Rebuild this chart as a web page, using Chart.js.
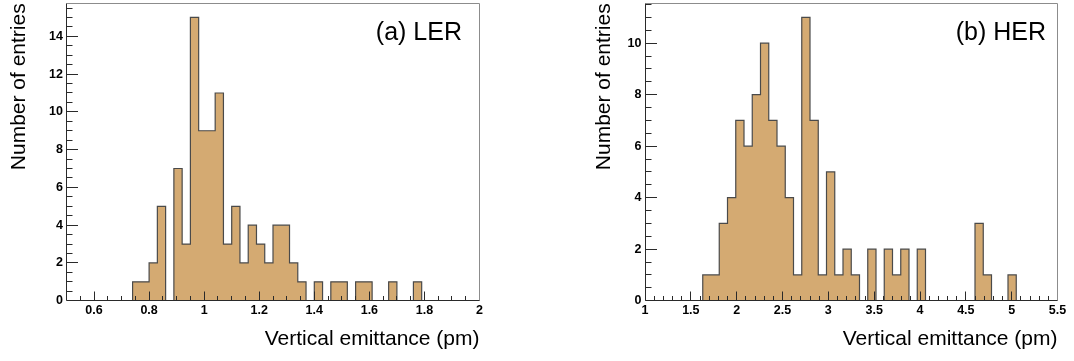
<!DOCTYPE html>
<html><head><meta charset="utf-8">
<script src="https://cdn.jsdelivr.net/npm/chart.js@4"></script>
<style>
html,body{margin:0;padding:0;background:#fff;}
#wrap{position:relative;width:1074px;height:361px;overflow:hidden;background:#fff;}
canvas{position:absolute;top:0;}
#cA{left:0}
#cB{left:537px}
</style></head><body>
<div id="wrap"><canvas id="cA" width="537" height="361"></canvas><canvas id="cB" width="537" height="361"></canvas></div>
<script>
// ---- data (bin edges = categories, counts = series values) ----
const lerBinEdges = [0.50,0.53,0.56,0.59,0.62,0.65,0.68,0.71,0.74,0.77,0.80,0.83,0.86,0.89,0.92,0.95,0.98,1.01,1.04,1.07,1.10,1.13,1.16,1.19,1.22,1.25,1.28,1.31,1.34,1.37,1.40,1.43,1.46,1.49,1.52,1.55,1.58,1.61,1.64,1.67,1.70,1.73,1.76,1.79,1.82,1.85,1.88,1.91,1.94,1.97,2.00];
const lerCounts = [0,0,0,0,0,0,0,0,1,1,2,5,0,7,3,15,9,9,11,3,5,2,4,3,2,4,4,2,1,0,1,0,1,1,0,1,1,0,0,1,0,0,1,0,0,0,0,0,0,0];
const herBinEdges = [1.00,1.09,1.18,1.27,1.36,1.45,1.54,1.63,1.72,1.81,1.90,1.99,2.08,2.17,2.26,2.35,2.44,2.53,2.62,2.71,2.80,2.89,2.98,3.07,3.16,3.25,3.34,3.43,3.52,3.61,3.70,3.79,3.88,3.97,4.06,4.15,4.24,4.33,4.42,4.51,4.60,4.69,4.78,4.87,4.96,5.05,5.14,5.23,5.32,5.41,5.50];
const herCounts = [0,0,0,0,0,0,0,1,1,3,4,7,6,8,10,7,6,4,1,11,7,1,5,1,2,1,0,2,0,2,1,2,0,2,0,0,0,0,0,0,3,1,0,0,1,0,0,0,0,0];
// ---- tick labels ----
const lerXTicks = [0.6,0.8,1,1.2,1.4,1.6,1.8,2];
const lerYTicks = [0,2,4,6,8,10,12,14];
const herXTicks = [1,1.5,2,2.5,3,3.5,4,4.5,5,5.5];
const herYTicks = [0,2,4,6,8,10];
const xTitleText = 'Vertical emittance (pm)';
const yTitleText = 'Number of entries';
const panelLabels = ['(a) LER', '(b) HER'];

const FILL = '#D4AA72';
const LINE = '#4a4a4a';
const FONT = '"Liberation Sans", Helvetica, Arial, sans-serif';

function crisp(v){ return Math.floor(v) + 0.5; }

const rootAxes = {
  id: 'rootAxes',
  afterDatasetsDraw(chart) {
    const o = chart.options.plugins.rootAxes;
    const {ctx, chartArea: a, scales: {x, y}} = chart;
    ctx.save();
    ctx.lineWidth = 1;
    // top and right frame
    ctx.strokeStyle = '#8c8c8c';
    ctx.beginPath();
    ctx.moveTo(crisp(a.left), crisp(a.top));
    ctx.lineTo(crisp(a.right), crisp(a.top));
    ctx.lineTo(crisp(a.right), crisp(a.bottom));
    ctx.stroke();
    // axes and ticks
    ctx.strokeStyle = '#2a2a2a';
    ctx.beginPath();
    ctx.moveTo(crisp(a.left), crisp(a.top));
    ctx.lineTo(crisp(a.left), crisp(a.bottom));
    ctx.lineTo(crisp(a.right), crisp(a.bottom));
    const bx = crisp(a.bottom), lx = crisp(a.left);
    const nx = Math.round((o.xMax - o.xMin) / o.xMinor);
    for (let i = 1; i < nx; i++) {
      const v = o.xMin + i * o.xMinor;
      const isMajor = o.xTicks.some(t => Math.abs(t - v) < 1e-6);
      const px = crisp(x.getPixelForValue(v));
      ctx.moveTo(px, bx);
      ctx.lineTo(px, bx - (isMajor ? 9 : 4.5));
    }
    const ny = Math.floor(o.yMax / o.yMinor + 1e-6);
    for (let i = 1; i <= ny; i++) {
      const v = i * o.yMinor;
      const isMajor = o.yTicks.some(t => Math.abs(t - v) < 1e-6);
      const py = crisp(y.getPixelForValue(v));
      ctx.moveTo(lx, py);
      ctx.lineTo(lx + (isMajor ? 11.5 : 6), py);
    }
    ctx.stroke();
    ctx.restore();
  },
  afterDraw(chart) {
    const o = chart.options.plugins.rootAxes;
    const {ctx, chartArea: a} = chart;
    ctx.save();
    ctx.fillStyle = '#000';
    ctx.font = '25px ' + FONT;
    ctx.textAlign = 'right';
    ctx.textBaseline = 'alphabetic';
    ctx.fillText(o.label, a.right - o.labelInset, 39.5);
    ctx.restore();
  }
};

function makeChart(id, edges, counts, xTicks, yTicks, c) {
  const pts = counts.map((v, i) => ({x: edges[i], y: v}));
  pts.push({x: edges[counts.length], y: counts[counts.length - 1]});
  return new Chart(document.getElementById(id), {
    type: 'line',
    data: {datasets: [{
      data: pts, stepped: true, fill: 'origin',
      backgroundColor: FILL, borderColor: LINE, borderWidth: 1.2,
      pointRadius: 0, pointHoverRadius: 0, tension: 0
    }]},
    options: {
      responsive: false, animation: false, devicePixelRatio: 1,
      events: [],
      layout: {padding: {left: 0, top: 3.3, right: c.padRight, bottom: 0}},
      plugins: {
        legend: {display: false}, tooltip: {enabled: false},
        rootAxes: {xMin: c.xMin, xMax: c.xMax, xMinor: c.xMinor, yMax: c.yMax, yMinor: 0.5,
                   xTicks: xTicks, yTicks: yTicks, label: c.label, labelInset: c.labelInset}
      },
      scales: {
        x: {
          type: 'linear', min: c.xMin, max: c.xMax,
          grid: {display: false, drawTicks: false}, border: {display: false},
          ticks: {color: '#000', font: {family: FONT, size: 12.5, weight: 'bold'}, padding: 2.5,
                  autoSkip: false, maxRotation: 0, minRotation: 0,
                  callback: v => String(Number(v.toFixed(2)))},
          afterBuildTicks: s => { s.ticks = xTicks.map(v => ({value: v})); },
          afterFit: s => { s.height = 361 - 300.7; s.paddingLeft = 0; s.paddingRight = 0; },
          title: {display: true, text: xTitleText, align: 'end', color: '#000',
                  font: {family: FONT, size: 21}, padding: {top: 0, bottom: 9.4}}
        },
        y: {
          type: 'linear', min: 0, max: c.yMax,
          grid: {display: false, drawTicks: false}, border: {display: false},
          ticks: {color: '#000', font: {family: FONT, size: 12.5, weight: 'bold'}, padding: 3.5,
                  autoSkip: false, callback: v => String(v)},
          afterBuildTicks: s => { s.ticks = yTicks.map(v => ({value: v})); },
          afterFit: s => { s.width = c.chartLeft; s.paddingTop = 0; s.paddingBottom = 0; },
          title: {display: true, text: yTitleText, align: 'end', color: '#000',
                  font: {family: FONT, size: 21}, padding: {top: c.yTitlePad, bottom: 0}}
        }
      }
    },
    plugins: [rootAxes]
  });
}

makeChart('cA', lerBinEdges, lerCounts, lerXTicks, lerYTicks,
  {chartLeft: 66.5, padRight: 537 - 479.5, xMin: 0.5, xMax: 2.0, xMinor: 0.05, yMax: 15.75,
   yTitlePad: 19.5 - 12.6, label: panelLabels[0], labelInset: 17.5});
makeChart('cB', herBinEdges, herCounts, herXTicks, herYTicks,
  {chartLeft: 645 - 537, padRight: 537 - (1057.5 - 537), xMin: 1.0, xMax: 5.5, xMinor: 0.1, yMax: 11.55,
   yTitlePad: 604.5 - 537 - 12.6, label: panelLabels[1], labelInset: 11.5});
</script>
</body></html>
